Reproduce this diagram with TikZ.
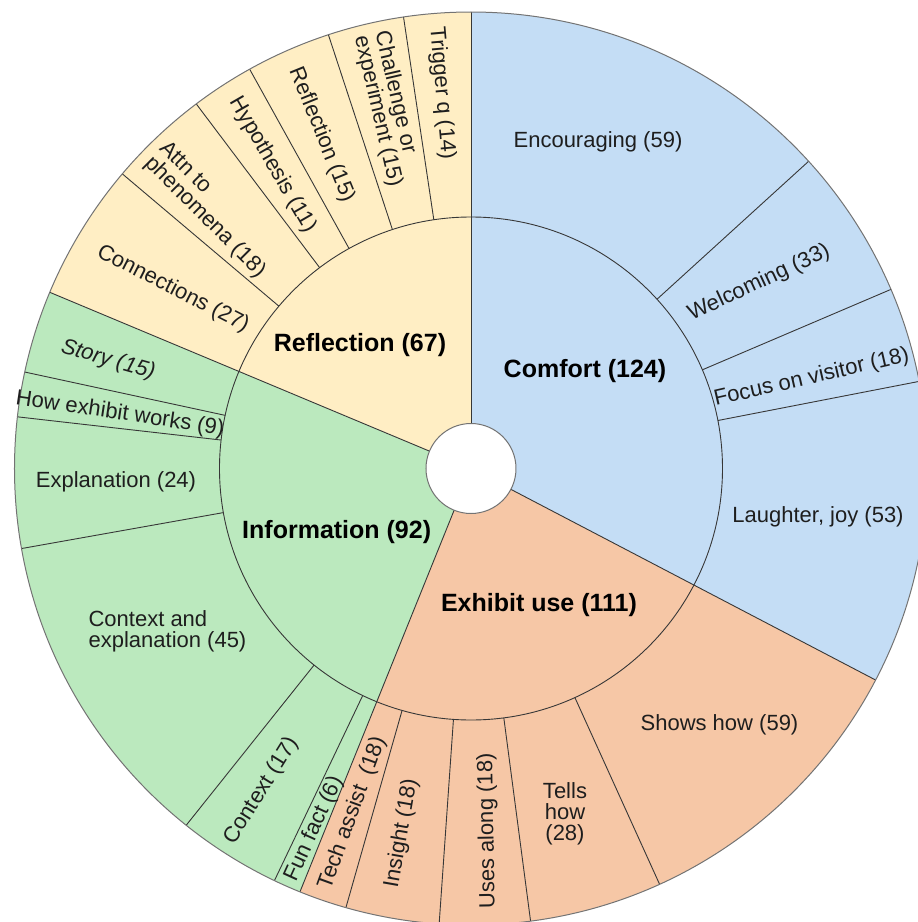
\documentclass[tikz,border=0pt]{standalone}
\usepackage{fontspec}
\setmainfont{Liberation Sans}
\definecolor{cblue}{RGB}{196,221,245}
\definecolor{corange}{RGB}{246,199,166}
\definecolor{cgreen}{RGB}{187,233,190}
\definecolor{cyellow}{RGB}{255,238,196}
\definecolor{linec}{RGB}{55,55,55}
\definecolor{txtc}{RGB}{30,30,30}
\begin{document}
\begin{tikzpicture}[x=1pt,y=1pt,
  lab/.style={font=\fontsize{22}{21}\selectfont, text=txtc, inner sep=0pt, align=center},
  labl/.style={font=\fontsize{22}{21}\selectfont, text=txtc, inner sep=0pt, align=left},
  blab/.style={font=\fontsize{25}{28}\selectfont\bfseries, text=black, inner sep=0pt},
  sep/.style={draw=linec, line width=0.9pt},
]
\useasboundingbox (-471,-453.5) rectangle (447,468.5);
\clip (-471,-453.5) rectangle (447,468.5);
\def\sbRo{456.5}
\def\sbRi{251.5}
\def\sbRh{45}
% sectors
\fill[cblue] (0,0) -- (90:\sbRo) arc[start angle=90,end angle=-27.6,radius=\sbRo] -- cycle;
\fill[corange] (0,0) -- (-27.6:\sbRo) arc[start angle=-27.6,end angle=-112,radius=\sbRo] -- cycle;
\fill[cgreen] (0,0) -- (-112:\sbRo) arc[start angle=-112,end angle=-202.7,radius=\sbRo] -- cycle;
\fill[cyellow] (0,0) -- (157.3:\sbRo) arc[start angle=157.3,end angle=90,radius=\sbRo] -- cycle;
% child boundaries
\foreach \a in {42.3,23.1,11,-65.6,-82.5,-94,-105.9,-115.5,-128.6,-169.9,173.5,167.8,139.8,127,119,108.2,98.5}
  \draw[sep] (\a:\sbRi) -- (\a:\sbRo);
% main boundaries
\foreach \a in {90,-27.6,-112,157.3}
  \draw[sep] (\a:\sbRh) -- (\a:\sbRo);
\draw[sep] (0,0) circle[radius=\sbRi];
\draw[draw=black!55, line width=1pt] (0,0) circle[radius=\sbRo];
\filldraw[fill=white, draw=black!55, line width=1pt] (0,0) circle[radius=\sbRh];
% inner labels
\node[blab] (reflection) at (-111,123.5) {Reflection (67)};
\node[blab] (comfort) at (114,97.5) {Comfort (124)};
\node[blab] (information) at (-134.3,-63.2) {Information (92)};
\node[blab] (exhibit) at (68,-136.5) {Exhibit use (111)};
% comfort children
\node[lab] (encouraging) at (127,326.5) {Encouraging (59)};
\node[lab, rotate=25] (welcoming) at (288,185.5) {Welcoming (33)};
\node[lab, rotate=13] (focus) at (340.7,90.5) {Focus on visitor (18)};
\node[lab] (laughter) at (347,-48.5) {Laughter, joy (53)};
% exhibit children
\node[lab] (shows) at (248.5,-256.8) {Shows how (59)};
\node[lab] (tells) at (94,-345) {Tells\\how\\(28)};
\node[lab, rotate=91] (uses) at (16.7,-362.5) {Uses along (18)};
\node[lab, rotate=80] (insight) at (-69.3,-364.5) {Insight (18)};
\node[lab, rotate=70] (tech) at (-118.5,-344.5) {Tech assist\ \ (18)};
% information children
\node[lab, rotate=65.5] (funfact) at (-157,-360.5) {Fun fact (6)};
\node[lab, rotate=58] (context) at (-209.3,-322.5) {Context (17)};
\node[labl] (contexpl) at (-303.5,-162.5) {Context and\\explanation (45)};
\node[lab] (explanation) at (-355,-13.2) {Explanation (24)};
\node[lab, rotate=-8.5] (howworks) at (-351,54.5) {How exhibit works (9)};
\node[lab, rotate=-16, font=\fontsize{22}{21}\selectfont\itshape] (story) at (-363,108.5) {Story (15)};
% reflection children
\node[lab, rotate=-27] (connections) at (-298,179.5) {Connections (27)};
\node[labl, rotate=-45] (attn) at (-259,258.5) {Attn to\\phenomena (18)};
\node[lab, rotate=-60] (hypothesis) at (-198.2,303.5) {Hypothesis (11)};
\node[lab, rotate=-68] (reflchild) at (-149,333.5) {Reflection (15)};
\node[labl, rotate=-77] (challenge) at (-83,359.5) {Challenge or\\experiment (15)};
\node[lab, rotate=-85] (trigger) at (-29.3,375.2) {Trigger q (14)};
\end{tikzpicture}
\end{document}
